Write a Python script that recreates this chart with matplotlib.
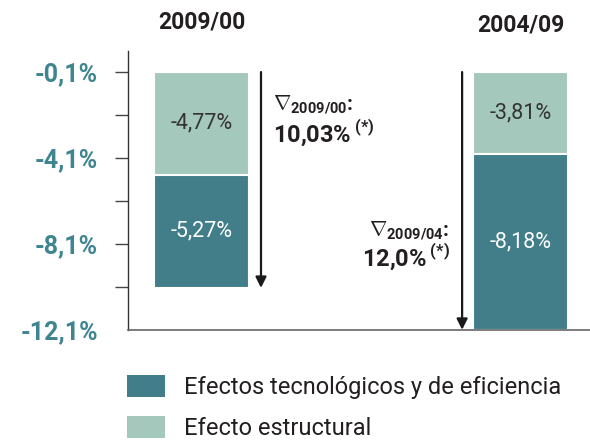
import matplotlib
matplotlib.use("Agg")
import matplotlib.pyplot as plt
from matplotlib.patches import Patch

# ---- data ----
periods = ["2009/00", "2004/09"]
structural = [-4.77, -3.81]        # Efecto estructural (light, top)
technological = [-5.27, -8.18]     # Efectos tecnológicos y de eficiencia (dark)
total_labels = ["10,03%", "12,0%"]
delta_subs = ["2009/00", "2009/04"]
tick_values = [-0.1, -2.1, -4.1, -6.1, -8.1, -10.1, -12.1]
tick_labels = ["-0,1%", "", "-4,1%", "", "-8,1%", "", "-12,1%"]
legend_labels = ["Efectos tecnológicos y de eficiencia", "Efecto estructural"]
base = -0.1

DARK = "#417e8a"
LIGHT = "#a4c8bb"
TEAL_TXT = "#3f8591"
TXT = "#231f20"

plt.rcParams['font.family'] = ['Roboto', 'DejaVu Sans']
plt.rcParams['mathtext.fontset'] = 'custom'
plt.rcParams['mathtext.rm'] = 'Roboto'
plt.rcParams['mathtext.bf'] = 'Roboto:bold'

fig = plt.figure(figsize=(5.9, 4.42), dpi=100)
W, H = 590, 442
ax = fig.add_axes([128 / W, (H - 330) / H, (590 - 128) / W, (330 - 51) / H])

x = [0, 1]
width = 0.298
tops = [base] * 2
light_bottoms = [base + s for s in structural]
ax.bar(x, structural, width=width, bottom=tops, color=LIGHT, edgecolor="white", linewidth=1.5)
ax.bar(x, technological, width=width, bottom=light_bottoms, color=DARK, edgecolor="white", linewidth=1.5)

def fmt(v):
    return ("%.2f%%" % v).replace(".", ",")

title_y = [2.23, 2.1]
for i in range(2):
    ax.text(x[i], base + structural[i] / 2, fmt(structural[i]), ha="center", va="center",
            fontsize=15.5, color="#333333")
    ax.text(x[i], light_bottoms[i] + technological[i] / 2, fmt(technological[i]), ha="center",
            va="center", fontsize=15.5, color="white")
    ax.text(x[i], title_y[i], periods[i], ha="center", va="center",
            fontsize=16.5, fontweight="bold", color=TXT, clip_on=False)

# arrows
arrow_dx = [0.1865, -0.183]
for i in range(2):
    end = base + structural[i] + technological[i]
    ax.annotate("", xy=(x[i] + arrow_dx[i], end), xytext=(x[i] + arrow_dx[i], base),
                arrowprops=dict(arrowstyle="-|>", color="#1a1a1a", lw=1.6, mutation_scale=16,
                                shrinkA=0, shrinkB=0))

# delta annotations
ann_x = [0.224, 0.779]
ann_ha = ["left", "right"]
ann_y1 = [-1.6, -7.45]
ann_y2 = [-2.94, -8.73]
for i in range(2):
    ax.text(ann_x[i], ann_y1[i], r"$\nabla_{\mathbf{%s}}$:" % delta_subs[i],
            ha=ann_ha[i], va="center", fontsize=15, fontweight="bold", color=TXT)
    num = total_labels[i].replace(",", "{,}").replace("%", r"\%")
    ax.text(ann_x[i], ann_y2[i], r"$\mathbf{%s}\,^{\mathbf{(*)}}$" % num,
            ha=ann_ha[i], va="center", fontsize=17, color=TXT)

ax.set_xlim(-0.2304, 1.2179)
ax.set_ylim(-12.1, 0.88)
ax.set_yticks(tick_values)
ax.set_yticklabels(tick_labels, fontweight="bold", fontsize=18, color=TEAL_TXT)
ax.tick_params(axis="y", length=9.5, width=1, color="#444444", pad=12)
ax.yaxis.get_major_ticks()[-1].tick1line.set_visible(False)
ax.set_xticks([])
for s in ["top", "right"]:
    ax.spines[s].set_visible(False)
ax.spines["left"].set_color("#333333")
ax.spines["bottom"].set_color("#666666")
ax.spines["left"].set_linewidth(1)
ax.spines["bottom"].set_linewidth(1.2)

handles = [Patch(facecolor=DARK), Patch(facecolor=LIGHT)]
leg = fig.legend(handles, legend_labels, loc="upper left",
                 bbox_to_anchor=(127 / W, 1 - 375 / H), frameon=False,
                 fontsize=17, handlelength=1.61, handleheight=1.06,
                 handletextpad=0.8, labelspacing=0.72, borderpad=0, borderaxespad=0)
for t in leg.get_texts():
    t.set_color(TXT)

fig.savefig("out.png", dpi=100)
